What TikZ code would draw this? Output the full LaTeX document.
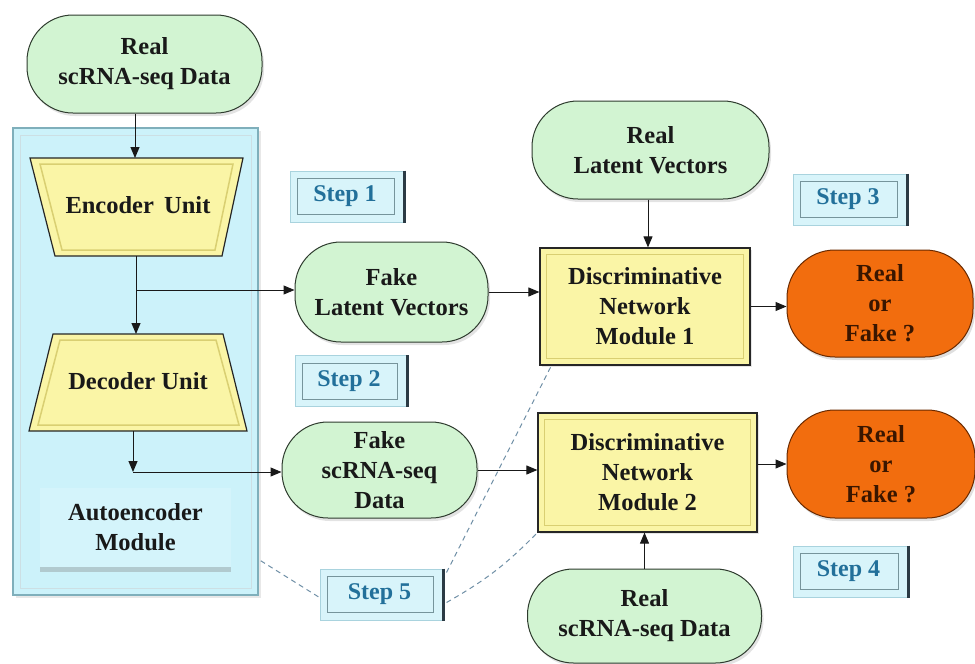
\documentclass[tikz,border=0pt]{standalone}
\usepackage{fontspec}
\setmainfont{Liberation Serif}
\usetikzlibrary{arrows.meta,shadows,calc}
\definecolor{gfill}{HTML}{D2F4D2}
\definecolor{gline}{HTML}{2E3B2E}
\definecolor{yfill}{HTML}{FAF5A6}
\definecolor{ybevel}{HTML}{D9CF72}
\definecolor{ofill}{HTML}{F26D0E}
\definecolor{oline}{HTML}{6A2A00}
\definecolor{otext}{HTML}{3A1600}
\definecolor{cfill}{HTML}{CCF2FA}
\definecolor{cline}{HTML}{7FAFBB}
\definecolor{sfill}{HTML}{D8F4FA}
\definecolor{sline}{HTML}{A9D3DE}
\definecolor{stext}{HTML}{22709A}
\definecolor{sbar}{HTML}{2B3A44}
\definecolor{dline}{HTML}{6F8FA6}
\begin{document}
\begin{tikzpicture}[x=1pt,y=-1pt,
  txt/.style={font=\bfseries\fontsize{24.5}{30}\selectfont, align=center, text=black!90},
  pill/.style={txt, draw=gline, line width=1pt, fill=gfill, rounded corners=46pt,
    drop shadow={opacity=0.22, shadow xshift=2pt, shadow yshift=-3pt}},
  opill/.style={txt, draw=oline, line width=1pt, fill=ofill, rounded corners=48pt, text=otext,
    drop shadow={opacity=0.25, shadow xshift=2pt, shadow yshift=-3pt}},
  dnbox/.style={draw=black!85, line width=1.2pt, fill=yfill,
    drop shadow={opacity=0.2, shadow xshift=2pt, shadow yshift=-2pt}},
  stepbox/.style={draw=sline, line width=1pt, fill=sfill},
  steptxt/.style={font=\bfseries\fontsize{24}{28}\selectfont, text=stext},
  arr/.style={-{Triangle[length=11pt,width=9pt]}, line width=1pt, black!90},
  dsh/.style={dashed, dash pattern=on 5pt off 4pt, dline, line width=1pt}
]
\useasboundingbox (0,0) rectangle (975,664);

% autoencoder outer container
\node[draw=cline, line width=1.5pt, fill=cfill, minimum width=245pt, minimum height=467pt,
  drop shadow={opacity=0.18, shadow xshift=3pt, shadow yshift=-3pt}] (aeo) at (135.5,361.5) {};
\node[draw=white!60!cline, line width=1pt, minimum width=231pt, minimum height=453pt] (aei) at (135.5,361.5) {};
\node[txt, fill=cfill!85!white, minimum width=191pt, minimum height=79pt,
  drop shadow={opacity=0.35, shadow xshift=0pt, shadow yshift=-5pt}] (aem) at (135.5,527.5) {Autoencoder\\Module};

% encoder / decoder trapezoids
\draw[draw=black!85, line width=1.2pt, fill=yfill] (30,158) -- (243,158) -- (222,256) -- (55,256) -- cycle;
\draw[draw=ybevel, line width=1.5pt] (40,164) -- (233,164) -- (215,250) -- (62,250) -- cycle;
\node[txt] (enc) at (138,205) {Encoder\, Unit};
\draw[draw=black!85, line width=1.2pt, fill=yfill] (53,334) -- (223,334) -- (247,431) -- (29,431) -- cycle;
\draw[draw=ybevel, line width=1.5pt] (60,340) -- (216,340) -- (239,425) -- (38,425) -- cycle;
\node[txt] (dec) at (138,381) {Decoder Unit};

\coordinate (enctop) at (135,158);
\coordinate (encbot) at (136,256);
\coordinate (dectop) at (136,334);
\coordinate (decbot) at (133,431);
\coordinate (b1) at (136,290);
\coordinate (b2) at (133,472);

% green pills
\node[pill, minimum width=235pt, minimum height=98pt] (rd1) at (144.5,64) {Real\\scRNA-seq Data};
\node[pill, minimum width=193pt, minimum height=100pt] (flv) at (391.5,292) {Fake\\Latent Vectors};
\node[pill, minimum width=195pt, minimum height=96pt] (fsd) at (379.5,470) {Fake\\scRNA-seq\\Data};
\node[pill, minimum width=237pt, minimum height=98pt] (rlv) at (650.5,150) {Real\\Latent Vectors};
\node[pill, minimum width=234pt, minimum height=94pt] (rsd) at (644.5,616) {Real\\scRNA-seq Data};

% discriminators
\node[dnbox, minimum width=210pt, minimum height=117pt] (dn1) at (645,306.5) {};
\draw[ybevel, line width=1.5pt] ($(dn1.north west)+(7,7)$) rectangle ($(dn1.south east)+(-7,-7)$);
\node[txt] (dn1t) at (dn1) {Discriminative\\Network\\Module 1};
\node[dnbox, minimum width=219pt, minimum height=119pt] (dn2) at (647.5,472.5) {};
\draw[ybevel, line width=1.5pt] ($(dn2.north west)+(7,7)$) rectangle ($(dn2.south east)+(-7,-7)$);
\node[txt] (dn2t) at (dn2) {Discriminative\\Network\\Module 2};

% outputs
\node[opill, minimum width=186pt, minimum height=107pt] (or1) at (880,303.5) {Real\\or\\Fake ?};
\node[opill, minimum width=188pt, minimum height=108pt] (or2) at (881,464) {Real\\or\\Fake ?};

% step labels
\foreach \n/\cx/\cy/\w/\t in {s1/347/196.5/114/Step 1, s2/351/381/112/Step 2, s3/850/199.5/114/Step 3, s4/850.5/571.5/115/Step 4, s5/381.5/594.5/123/Step 5}{
  \node[stepbox, minimum width=\w pt, minimum height=51pt] (\n) at (\cx,\cy) {};
  \draw[sline!70!black, line width=0.8pt] ($(\n.north west)+(8,8)$) rectangle ($(\n.south east)+(-10,-8)$);
  \draw[sbar, line width=2.5pt] (\n.north east) -- (\n.south east);
  \node[steptxt] at ($(\n.center)+(-2,0)$) {\t};
}

% arrows
\draw[arr] (rd1.south -| enctop) -- (enctop);
\draw[arr] (encbot) -- (dectop);
\draw[arr] (b1) -- (b1 -| flv.west);
\draw[arr] (decbot) -- (b2);
\draw[arr] (b2) -- (b2 -| fsd.west);
\draw[arr] (flv.east) -- (flv.east -| dn1.west);
\draw[arr] (fsd.east) -- (fsd.east -| dn2.west);
\draw[arr] (rlv.south -| 648,0) -- (dn1.north -| 648,0);
\draw[arr] (rsd.north) -- (rsd.north |- dn2.south);
\draw[arr] (dn1.east) -- (dn1.east -| or1.west);
\draw[arr] (dn2.east |- or2.west) -- (or2.west);

% dashed links
\draw[dsh] ($(aeo.south east)+(2,-35)$) -- ($(s5.west)+(0,3)$);
\draw[dsh] ($(s5.north east)+(3,4)$) -- ($(dn1.south west)+(12,0)$);
\draw[dsh] ($(s5.east)+(3,8)$) to[bend right=8] (dn2.south west);
\end{tikzpicture}
\end{document}
